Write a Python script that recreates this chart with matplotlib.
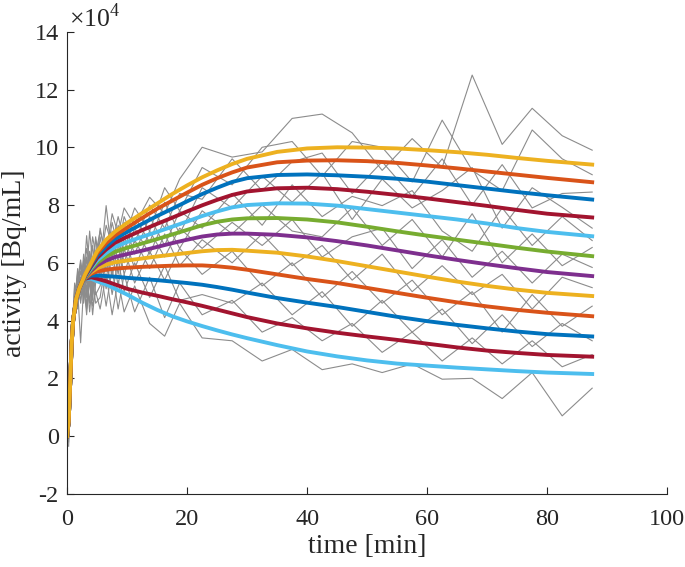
import matplotlib
matplotlib.use('Agg')
import matplotlib.pyplot as plt
from matplotlib.ticker import FuncFormatter

plt.rcParams['font.family'] = ['Liberation Serif', 'DejaVu Serif']
plt.rcParams['mathtext.fontset'] = 'custom'
plt.rcParams['mathtext.rm'] = 'Liberation Serif'

# frame mid times [min] for measured curves
t_data = [0.25, 0.75, 1.25, 1.75, 2.25, 2.75, 3.25, 3.75, 4.25, 4.75,
          5.5, 6.5, 7.5, 8.5, 9.5, 11.25, 13.75, 16.25, 18.75,
          22.5, 27.5, 32.5, 37.5, 42.5, 47.5, 52.5, 57.5, 62.5, 67.5, 72.5, 77.5, 82.5, 87.5]

# measured (noisy) curves, units of 1e4 Bq/mL
g0 = [0.0, 2.8, 4.9, 5.4, 6.1, 5.3, 6.5, 5.9, 6.9, 6.3,
      7.1, 6.3, 7.7, 7.0, 7.9, 7.3, 8.27, 7.7, 8.9,
      10.0, 9.66, 9.84, 11.0, 11.15, 10.5, 9.2, 10.3, 9.3, 12.5, 10.1, 11.35, 10.4, 9.9]
g1 = [0.1, 3.4, 4.6, 5.8, 5.0, 6.3, 5.6, 7.1, 6.0, 6.8,
      6.0, 7.3, 6.6, 7.6, 6.8, 7.9, 7.1, 8.6, 7.8,
      9.3, 8.7, 10.0, 10.2, 9.0, 10.2, 10.0, 8.8, 10.94, 9.2, 8.5, 10.6, 9.6, 9.05]
g2 = [-0.35, 3.0, 5.2, 4.8, 5.9, 5.5, 6.94, 5.7, 6.6, 5.6,
      7.2, 6.1, 7.4, 6.5, 7.6, 6.7, 8.0, 7.2, 8.4,
      8.2, 9.6, 8.5, 9.5, 9.8, 8.4, 9.5, 8.3, 9.6, 8.0, 9.4, 7.9, 8.4, 8.45]
g3 = [0.2, 3.6, 4.4, 5.5, 4.9, 6.0, 5.3, 6.4, 5.5, 6.9,
      5.8, 7.98, 6.2, 7.3, 6.4, 7.6, 6.7, 8.1, 7.0,
      8.6, 7.9, 9.0, 8.1, 9.1, 7.5, 8.9, 7.9, 8.5, 9.3, 7.2, 8.6, 7.92, 7.2]
g4 = [0.0, 2.6, 4.8, 5.3, 5.7, 4.8, 6.2, 5.2, 6.1, 5.4,
      6.9, 5.7, 7.1, 6.0, 7.4, 6.3, 7.6, 6.6, 7.8,
      7.2, 8.4, 7.3, 8.7, 7.6, 8.3, 7.98, 8.5, 7.1, 6.4, 7.9, 6.6, 7.6, 6.77]
g5 = [0.1, 3.3, 5.3, 4.9, 5.4, 6.1, 5.0, 6.3, 5.1, 6.4,
      5.5, 6.8, 5.9, 7.0, 6.0, 7.2, 6.3, 7.5, 6.5,
      7.8, 7.0, 8.0, 7.1, 6.9, 7.9, 6.6, 7.5, 6.2, 7.7, 6.0, 7.0, 5.9, 6.53]
g6 = [-0.1, 3.1, 4.5, 5.6, 4.6, 5.8, 4.8, 6.0, 4.9, 5.9,
      6.5, 5.4, 6.8, 5.6, 6.9, 5.8, 7.1, 6.2, 7.2,
      6.5, 7.4, 6.6, 7.5, 6.2, 6.9, 7.2, 5.8, 6.8, 5.5, 6.4, 5.3, 6.3, 5.84]
g7 = [0.2, 2.9, 5.0, 5.2, 6.0, 5.0, 5.9, 4.6, 5.8, 4.9,
      5.2, 6.6, 5.5, 6.7, 5.6, 6.8, 5.8, 7.0, 5.9,
      6.8, 6.0, 7.0, 5.9, 6.6, 5.4, 6.3, 5.0, 5.9, 4.9, 5.6, 4.4, 5.5, 5.14]
g8 = [0.0, 3.5, 4.2, 5.7, 5.1, 5.6, 4.5, 5.7, 4.7, 6.1,
      6.3, 5.1, 6.4, 5.2, 6.5, 5.3, 6.4, 5.4, 6.5,
      5.6, 6.4, 5.2, 6.0, 4.8, 5.7, 4.6, 5.4, 4.2, 5.0, 3.6, 4.9, 3.8, 4.5]
g9 = [0.1, 2.7, 4.7, 4.4, 5.5, 4.6, 5.6, 4.3, 5.4, 4.6,
      4.8, 6.2, 4.9, 6.1, 5.0, 6.0, 4.8, 5.9, 4.7,
      4.9, 4.6, 5.3, 4.2, 5.0, 3.8, 4.7, 3.6, 4.4, 3.2, 4.2, 3.1, 3.9, 3.3]
g10 = [-0.2, 3.2, 4.3, 5.1, 3.23, 5.2, 4.4, 5.4, 4.2, 5.3,
       5.9, 4.5, 5.8, 4.4, 5.6, 4.3, 5.5, 4.1, 5.3,
       4.2, 4.7, 3.6, 4.1, 3.3, 3.9, 2.9, 3.6, 2.6, 3.4, 2.5, 3.3, 2.4, 2.82]
g11 = [0.0, 3.0, 4.6, 5.0, 4.7, 5.3, 4.2, 5.5, 4.5, 5.0,
       4.4, 5.6, 4.2, 5.4, 4.3, 5.2, 3.9, 3.46, 4.6,
       3.4, 3.3, 2.6, 3.0, 2.3, 2.5, 2.2, 2.5, 1.97, 2.0, 1.3, 2.2, 0.7, 1.66]
measured = [g0, g1, g2, g3, g4, g5, g6, g7, g8, g9, g10, g11]

# fitted curves (top to bottom), units of 1e4 Bq/mL
t_fit = [0, 0.25, 0.5, 0.75, 1, 1.5, 2, 2.5, 3, 4, 5, 6.5, 8, 10, 12.5, 15, 17.5, 20,
         22.5, 25, 27.5, 30, 35, 40, 45, 50, 55, 60, 65, 70, 75, 80, 87.5]
rise = [0, 0.5, 1.8, 3.2, 4.0, 4.75, 5.1, 5.35]
f0 = rise + [5.6, 6.0, 6.4, 6.8, 7.08, 7.38, 7.72, 8.05, 8.38, 8.68,
             8.96, 9.2, 9.42, 9.6, 9.84, 9.96, 10.0, 9.99, 9.96, 9.9, 9.83, 9.74, 9.63, 9.53, 9.40]
f1 = rise + [5.58, 5.96, 6.33, 6.68, 6.95, 7.22, 7.55, 7.87, 8.15, 8.43,
             8.7, 8.93, 9.13, 9.3, 9.48, 9.54, 9.55, 9.52, 9.46, 9.37, 9.27, 9.16, 9.05, 8.94, 8.79]
f2 = rise + [5.56, 5.92, 6.25, 6.57, 6.83, 7.07, 7.35, 7.62, 7.87, 8.13,
             8.38, 8.6, 8.8, 8.93, 9.04, 9.06, 9.03, 8.98, 8.91, 8.81, 8.69, 8.57, 8.45, 8.34, 8.19]
f3 = rise + [5.54, 5.87, 6.17, 6.46, 6.7, 6.9, 7.13, 7.35, 7.56, 7.78,
             7.99, 8.18, 8.35, 8.47, 8.58, 8.6, 8.55, 8.46, 8.35, 8.23, 8.1, 7.97, 7.83, 7.7, 7.57]
f4 = rise + [5.52, 5.82, 6.08, 6.34, 6.55, 6.72, 6.9, 7.07, 7.25, 7.43,
             7.62, 7.78, 7.92, 8.0, 8.06, 8.05, 7.98, 7.86, 7.74, 7.62, 7.5, 7.36, 7.2, 7.07, 6.92]
f5 = rise + [5.5, 5.77, 6.0, 6.22, 6.38, 6.52, 6.67, 6.82, 6.98, 7.14,
             7.3, 7.42, 7.5, 7.54, 7.55, 7.5, 7.4, 7.25, 7.09, 6.94, 6.8, 6.66, 6.52, 6.39, 6.23]
f6 = rise + [5.49, 5.72, 5.91, 6.08, 6.2, 6.3, 6.42, 6.55, 6.68, 6.8,
             6.91, 6.98, 7.01, 7.01, 6.97, 6.88, 6.75, 6.6, 6.43, 6.26, 6.1, 5.95, 5.81, 5.68, 5.54]
f7 = rise + [5.48, 5.67, 5.81, 5.94, 6.02, 6.08, 6.15, 6.22, 6.28, 6.34,
             6.4, 6.44, 6.45, 6.42, 6.35, 6.22, 6.06, 5.88, 5.7, 5.52, 5.35, 5.2, 5.07, 4.96, 4.85]
f8 = rise + [5.47, 5.62, 5.7, 5.76, 5.8, 5.83, 5.86, 5.88, 5.9, 5.91,
             5.91, 5.88, 5.83, 5.76, 5.6, 5.44, 5.3, 5.13, 4.96, 4.79, 4.63, 4.49, 4.37, 4.27, 4.15]
f9 = rise + [5.46, 5.56, 5.56, 5.54, 5.52, 5.48, 5.44, 5.4, 5.35, 5.3,
             5.24, 5.16, 5.07, 4.97, 4.78, 4.62, 4.47, 4.3, 4.13, 3.98, 3.85, 3.73, 3.62, 3.53, 3.45]
f10 = rise + [5.45, 5.5, 5.45, 5.36, 5.25, 5.1, 4.97, 4.86, 4.74, 4.63,
              4.51, 4.38, 4.25, 4.12, 3.9, 3.73, 3.58, 3.45, 3.33, 3.2, 3.07, 2.96, 2.88, 2.81, 2.75]
f11 = rise + [5.45, 5.45, 5.36, 5.25, 5.1, 4.9, 4.62, 4.37, 4.15, 3.97,
              3.81, 3.66, 3.52, 3.39, 3.15, 2.93, 2.76, 2.62, 2.51, 2.44, 2.37, 2.31, 2.25, 2.2, 2.15]
fits = [f0, f1, f2, f3, f4, f5, f6, f7, f8, f9, f10, f11]
fit_colors = ['#EDB120', '#D95319', '#0072BD', '#A2142F', '#4DBEEE', '#77AC30',
              '#7E2F8E', '#EDB120', '#D95319', '#0072BD', '#A2142F', '#4DBEEE']

fig = plt.figure(figsize=(6.85, 5.67), dpi=100)
ax = fig.add_axes([0.098, 0.129, 0.876, 0.815])

for g in measured:
    ax.plot(t_data, [v * 1e4 for v in g], color='#8c8c8c', lw=0.8)

# draw bottom curve first so top yellow ends up on top
for f, c in zip(fits[::-1], fit_colors[::-1]):
    ax.plot(t_fit, [v * 1e4 for v in f], color=c, lw=2.8, solid_joinstyle='round')

ax.set_xlim(0, 100)
ax.set_ylim(-2e4, 14e4)
ax.set_xticks([0, 20, 40, 60, 80, 100])
ax.set_yticks([i * 1e4 for i in range(-2, 16, 2)])
ax.yaxis.set_major_formatter(FuncFormatter(lambda v, p: '%d' % round(v / 1e4)))
ax.tick_params(direction='in', length=5, width=0.8, labelsize=17.5, colors='#262626')
ax.tick_params(axis='x', pad=11)
ax.tick_params(axis='y', pad=6)
for s in ['top', 'right']:
    ax.spines[s].set_visible(False)
for s in ['left', 'bottom']:
    ax.spines[s].set_color('#262626')
    ax.spines[s].set_linewidth(0.8)

ax.text(0.003, 1.0, r'$\times10^4$', transform=ax.transAxes, fontsize=18.5,
        color='#262626', va='bottom', ha='left')
ax.set_xlabel('time [min]', fontsize=20, color='#262626', labelpad=3)
ax.set_ylabel('activity [Bq/mL]', fontsize=20, color='#262626', labelpad=5)

fig.savefig('out.png', dpi=100)
